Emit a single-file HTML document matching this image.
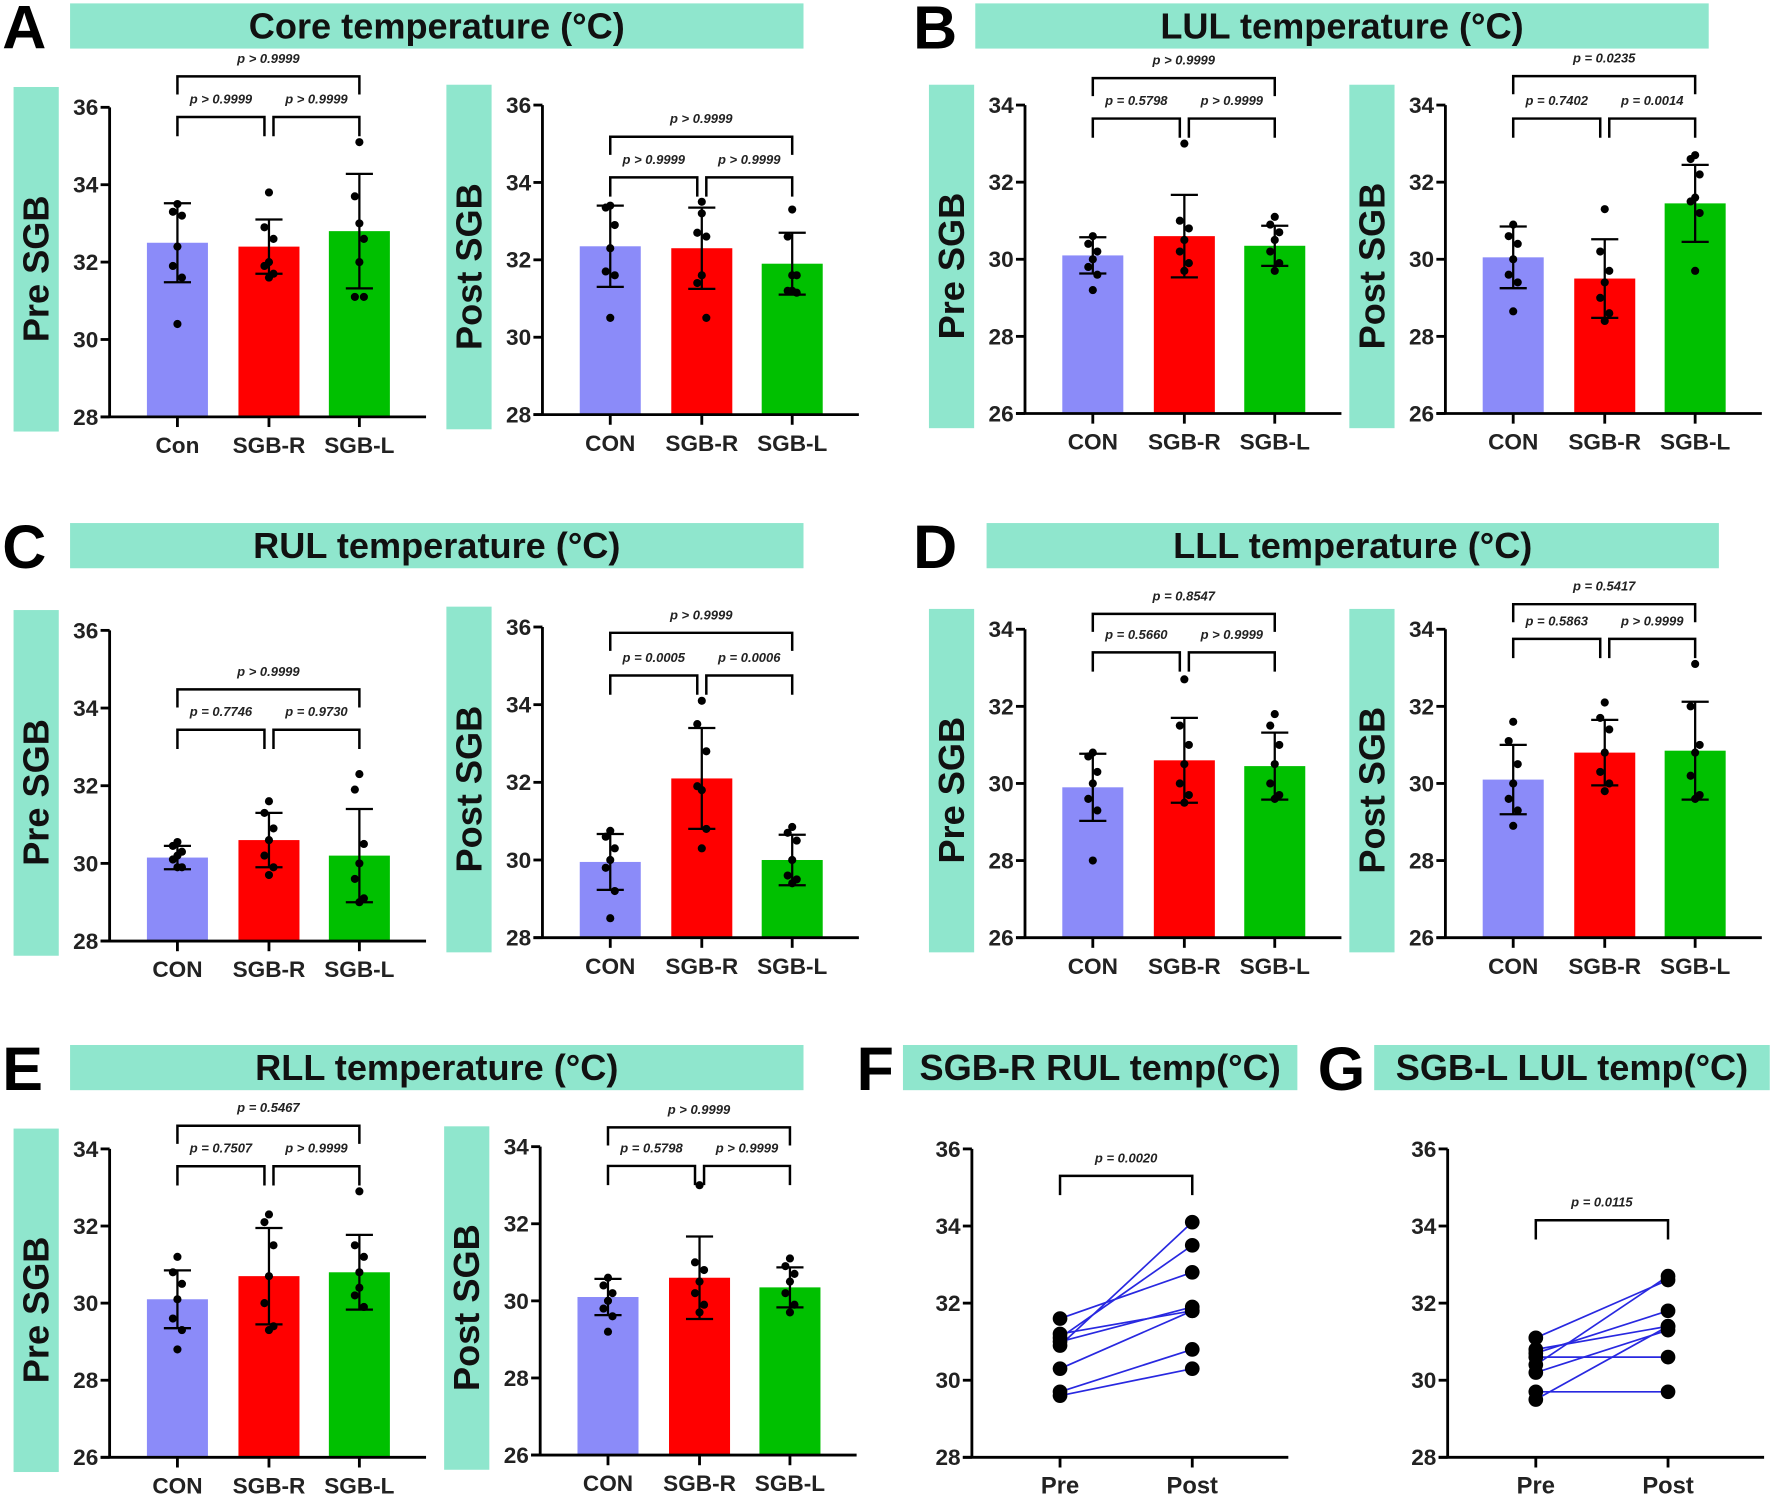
<!DOCTYPE html>
<html><head><meta charset="utf-8"><style>
html,body{margin:0;padding:0;background:#fff;}
svg{display:block;}
text{font-family:"Liberation Sans Narrow","Liberation Sans",sans-serif;}
</style></head><body>
<svg id="fig" width="1772" height="1498" viewBox="0 0 1568 1326" preserveAspectRatio="none" xmlns="http://www.w3.org/2000/svg"></svg>
<script>
const groups=["Con","SGB-R","SGB-L"];
const groupsUp=["CON","SGB-R","SGB-L"];
const ticks8=[28,30,32,34,36];
const ticks26=[26,28,30,32,34];
// Panel A
const aPreMeans=[32.5,32.4,32.8];const aPreSD=[1.02,0.7,1.48];
const aPrePts=[[33.5,33.3,33.2,32.4,31.9,31.6,30.4],[33.8,32.9,32.6,32.0,31.9,31.7,31.6],[35.1,33.7,32.6,32.0,31.1,31.1,33.0]];
const aPreP=["p > 0.9999","p > 0.9999","p > 0.9999"];
const aPostMeans=[32.35,32.3,31.9];const aPostSD=[1.05,1.05,0.8];
const aPostPts=[[33.4,33.35,32.9,32.3,31.7,31.6,30.5],[33.5,32.7,32.6,31.6,31.4,30.5,33.2],[33.3,32.6,31.6,31.6,31.2,31.15,31.2]];
const aPostP=["p > 0.9999","p > 0.9999","p > 0.9999"];
// Panel B
const bPreMeans=[30.1,30.6,30.35];const bPreSD=[0.47,1.07,0.52];
const bPrePts=[[30.6,30.4,30.2,30.0,29.8,29.6,29.2],[33.0,31.0,30.8,30.5,30.2,29.9,29.7],[31.1,30.9,30.7,30.5,30.2,29.9,29.7]];
const bPreP=["p > 0.9999","p = 0.5798","p > 0.9999"];
const bPostMeans=[30.05,29.5,31.45];const bPostSD=[0.8,1.02,1.0];
const bPostPts=[[30.9,30.6,30.4,30.0,29.6,29.4,28.65],[31.3,30.2,29.7,29.4,29.0,28.6,28.4],[32.7,32.6,32.2,31.6,31.5,31.2,29.7]];
const bPostP=["p = 0.0235","p = 0.7402","p = 0.0014"];
// Panel C
const cPreMeans=[30.15,30.6,30.2];const cPreSD=[0.3,0.7,1.2];
const cPrePts=[[30.55,30.45,30.3,30.2,30.1,29.9,29.9],[31.6,31.3,30.9,30.6,30.2,29.9,29.7],[32.3,31.9,30.5,30.0,29.6,29.1,29.0]];
const cPreP=["p > 0.9999","p = 0.7746","p = 0.9730"];
const cPostMeans=[29.95,32.1,30.0];const cPostSD=[0.72,1.3,0.65];
const cPostPts=[[30.75,30.6,30.3,30.0,29.8,29.2,28.5],[34.1,33.5,32.8,31.8,31.9,30.8,30.3],[30.85,30.7,30.5,30.0,29.6,29.5,29.4]];
const cPostP=["p > 0.9999","p = 0.0005","p = 0.0006"];
// Panel D
const dPreMeans=[29.9,30.6,30.45];const dPreSD=[0.87,1.1,0.87];
const dPrePts=[[30.8,30.7,30.3,30.0,29.6,29.3,28.0],[32.7,31.5,31.0,30.5,30.0,29.7,29.5],[31.8,31.5,31.0,30.5,30.0,29.7,29.6]];
const dPreP=["p = 0.8547","p = 0.5660","p > 0.9999"];
const dPostMeans=[30.1,30.8,30.85];const dPostSD=[0.9,0.85,1.27];
const dPostPts=[[31.6,31.1,30.5,30.0,29.6,29.3,28.9],[32.1,31.7,31.4,30.8,30.3,30.0,29.8],[33.1,32.0,31.0,30.8,30.2,29.7,29.6]];
const dPostP=["p = 0.5417","p = 0.5863","p > 0.9999"];
// Panel E
const ePreMeans=[30.1,30.7,30.8];const ePreSD=[0.75,1.25,0.97];
const ePrePts=[[31.2,30.8,30.5,30.1,29.6,29.3,28.8],[32.3,32.1,31.5,30.7,30.0,29.4,29.3],[32.9,31.5,31.2,30.8,30.2,29.9,30.4]];
const ePreP=["p = 0.5467","p = 0.7507","p > 0.9999"];
const ePostMeans=[30.1,30.6,30.35];const ePostSD=[0.47,1.07,0.52];
const ePostPts=[[30.6,30.4,30.2,30.0,29.8,29.6,29.2],[33.0,31.0,30.8,30.5,30.2,29.9,29.7],[31.1,30.9,30.7,30.5,30.2,29.9,29.7]];
const ePostP=["p > 0.9999","p = 0.5798","p > 0.9999"];
// Panel F/G paired
const fPre=[31.6,31.2,31.1,31.0,30.9,30.3,29.7,29.6];
const fPost=[32.8,31.8,33.5,31.9,34.1,31.8,30.8,30.3];
const fP="p = 0.0020";
const gPre=[31.1,30.8,30.7,30.6,30.4,30.2,29.7,29.5];
const gPost=[32.6,31.4,31.8,30.6,32.7,31.3,29.7,31.4];
const gP="p = 0.0115";

const NS="http://www.w3.org/2000/svg";
const svg=document.getElementById('fig');
const COLORS=["#8b8bf9","#ff0000","#00c000"];
const BAND="#8fe6cd";
function mk(tag,attrs,parent){const e=document.createElementNS(NS,tag);for(const k in attrs)e.setAttribute(k,attrs[k]);(parent||svg).appendChild(e);return e;}
function txt(s,attrs,parent){const e=mk('text',attrs,parent);e.textContent=s;return e;}

function panelTitle(letter,lx,title,bx,bw,by){
  const g=mk('g',{});
  
  
  const l=txt(letter,{x:lx,y:by+40,'font-size':54,'font-weight':'bold',fill:'#000','font-family':'Liberation Sans'},g);
  
  
  const r=mk('rect',{x:bx,y:by,width:bw,height:40,fill:BAND},g);
  
  
  const t=txt(title,{x:bx+bw/2,y:by+31,'font-size':32,'font-weight':'bold','text-anchor':'middle',fill:'#111'},g);
  
  
}

function yAxis(g,ax,y0,y1,min,max,ticks,xEnd){
  const ys=v=>y0-(v-min)/(max-min)*(y0-y1);
  const a=mk('line',{x1:ax,y1:y1,x2:ax,y2:y0,stroke:'#000','stroke-width':2.5},g);
  
  
  const xa=mk('line',{x1:ax-8,y1:y0,x2:xEnd,y2:y0,stroke:'#000','stroke-width':2.5},g);
  
  
  ticks.forEach(t=>{
    const tk=mk('line',{x1:ax-8,y1:ys(t),x2:ax,y2:ys(t),stroke:'#000','stroke-width':2.5},g);
    
    
    const tl=txt(String(t),{x:ax-10,y:ys(t)+7,'font-size':20,'font-weight':'bold','text-anchor':'end',fill:'#222'},g);
    
    
  });
  return ys;
}

function bracket(g,x1,x2,y,drop,label){
  const p=mk('path',{d:`M${x1},${y+drop}V${y}H${x2}V${y+drop}`,fill:'none',stroke:'#000','stroke-width':2.2},g);
  
  
  const t=txt(label,{x:(x1+x2)/2,y:y-12,'font-size':11.5,'font-style':'italic','font-weight':'bold','text-anchor':'middle',fill:'#222'},g);
  
  
}

function barChart(name,ax,y0,y1,min,max,ticks,title,labels,means,sds,pts,pl,topY,lowY){
  const g=mk('g',{});
  
  
  const band=mk('rect',{x:ax-85,y:y1-18,width:40,height:(y0-y1)+31,fill:BAND},g);
  
  
  const tx=ax-65,ty=(y0+y1)/2+6;
  const tt=txt(title,{x:tx,y:ty+11,'font-size':32,'font-weight':'bold','text-anchor':'middle',fill:'#111','font-family':'Liberation Sans',transform:`rotate(-90 ${tx} ${ty})`},g);
  
  
  const xs=[ax+60,ax+141,ax+221];
  const ys=v=>y0-(v-min)/(max-min)*(y0-y1);
  means.forEach((m,i)=>{
    const b=mk('rect',{x:xs[i]-27,y:ys(m),width:54,height:y0-ys(m),fill:COLORS[i]},g);
    
    
  });
  yAxis(g,ax,y0,y1,min,max,ticks,ax+280);
  means.forEach((m,i)=>{
    const hi=ys(m+sds[i]),lo=ys(m-sds[i]);
    const e=mk('path',{d:`M${xs[i]},${hi}V${lo}M${xs[i]-12},${hi}H${xs[i]+12}M${xs[i]-12},${lo}H${xs[i]+12}`,stroke:'#000','stroke-width':2,fill:'none'},g);
    
    
    pts[i].forEach((v,j)=>{
      const off=[0,-4,4,0,-4,4,0][j]||0;
      const c=mk('circle',{cx:xs[i]+off,cy:ys(v),r:3.6,fill:'#000'},g);
      
      
    });
    const xt=mk('line',{x1:xs[i],y1:y0,x2:xs[i],y2:y0+9,stroke:'#000','stroke-width':2.5},g);
    
    
    const xl=txt(labels[i],{x:xs[i],y:y0+32,'font-size':20,'font-weight':'bold','text-anchor':'middle',fill:'#222'},g);
    
    
  });
  bracket(g,xs[0],xs[2],ys(topY),16,pl[0]);
  bracket(g,xs[0],xs[1]-4,ys(lowY),17,pl[1]);
  bracket(g,xs[1]+4,xs[2],ys(lowY),17,pl[2]);
}

function pairChart(name,ax,y0,y1,pre,post,pl,brY){
  const g=mk('g',{});
  
  
  const ys=yAxis(g,ax,y0,y1,28,36,ticks8,ax+280);
  const xp=ax+78,xq=ax+195;
  pre.forEach((v,i)=>{
    const l=mk('line',{x1:xp,y1:ys(v),x2:xq,y2:ys(post[i]),stroke:'#2828e0','stroke-width':1.5},g);
    
    
  });
  pre.forEach((v,i)=>{
    const a=mk('circle',{cx:xp,cy:ys(v),r:6.5,fill:'#000'},g);
    
    
    const b=mk('circle',{cx:xq,cy:ys(post[i]),r:6.5,fill:'#000'},g);
    
    
  });
  [[xp,'Pre'],[xq,'Post']].forEach(([x,s])=>{
    const t=mk('line',{x1:x,y1:y0,x2:x,y2:y0+9,stroke:'#000','stroke-width':2.5},g);
    
    
    const l=txt(s,{x:x,y:y0+32,'font-size':21,'font-weight':'bold','text-anchor':'middle',fill:'#222'},g);
    
    
  });
  bracket(g,xp,xq,ys(brY),17,pl);
}

panelTitle('A',2,'Core temperature (°C)',62,649,3);
panelTitle('B',808,'LUL temperature (°C)',863,649,3);
panelTitle('C',2,'RUL temperature (°C)',62,649,463);
panelTitle('D',808,'LLL temperature (°C)',873,648,463);
panelTitle('E',2,'RLL temperature (°C)',62,649,925);
panelTitle('F',758,'SGB-R RUL temp(°C)',799,349,925);
panelTitle('G',1166,'SGB-L LUL temp(°C)',1216,350,925);

barChart('chart-a-pre',97,369,95,28,36,ticks8,'Pre SGB',groups,aPreMeans,aPreSD,aPrePts,aPreP,36.8,35.75);
barChart('chart-a-post',480,367,93,28,36,ticks8,'Post SGB',groupsUp,aPostMeans,aPostSD,aPostPts,aPostP,35.18,34.13);
barChart('chart-b-pre',907,366,93,26,34,ticks26,'Pre SGB',groupsUp,bPreMeans,bPreSD,bPrePts,bPreP,34.7,33.65);
barChart('chart-b-post',1279,366,93,26,34,ticks26,'Post SGB',groupsUp,bPostMeans,bPostSD,bPostPts,bPostP,34.75,33.65);
barChart('chart-c-pre',97,833,558,28,36,ticks8,'Pre SGB',groupsUp,cPreMeans,cPreSD,cPrePts,cPreP,34.48,33.44);
barChart('chart-c-post',480,830,555,28,36,ticks8,'Post SGB',groupsUp,cPostMeans,cPostSD,cPostPts,cPostP,35.85,34.75);
barChart('chart-d-pre',907,830,557,26,34,ticks26,'Pre SGB',groupsUp,dPreMeans,dPreSD,dPrePts,dPreP,34.4,33.4);
barChart('chart-d-post',1279,830,557,26,34,ticks26,'Post SGB',groupsUp,dPostMeans,dPostSD,dPostPts,dPostP,34.65,33.75);
barChart('chart-e-pre',97,1290,1017,26,34,ticks26,'Pre SGB',groupsUp,ePreMeans,ePreSD,ePrePts,ePreP,34.6,33.55);
barChart('chart-e-post',478,1288,1015,26,34,ticks26,'Post SGB',groupsUp,ePostMeans,ePostSD,ePostPts,ePostP,34.5,33.5);
pairChart('chart-f',860,1290,1017,fPre,fPost,fP,35.3);
pairChart('chart-g',1281,1290,1017,gPre,gPost,gP,34.15);
</script>
</body></html>
